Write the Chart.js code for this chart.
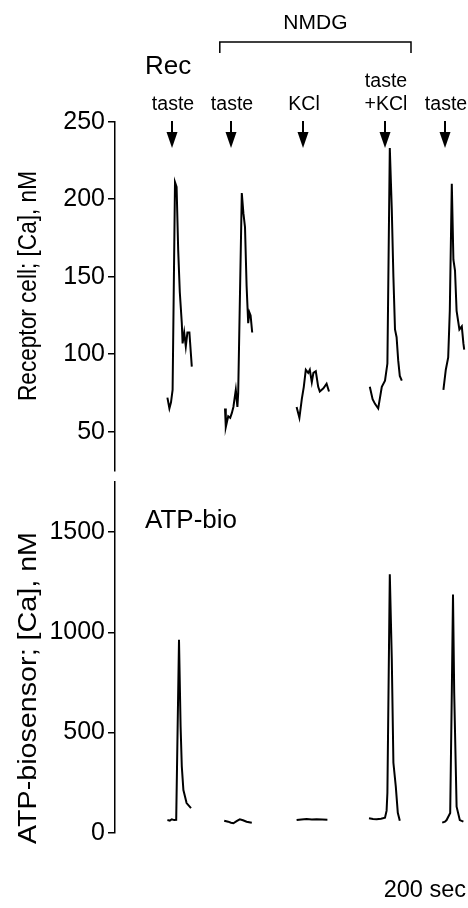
<!DOCTYPE html>
<html>
<head>
<meta charset="utf-8">
<script src="https://cdn.jsdelivr.net/npm/chart.js@4.4.1/dist/chart.umd.min.js"></script>
<style>
    html, body { margin: 0; padding: 0; background: #fff; }
    body { width: 468px; height: 908px; position: relative; overflow: hidden; }
    canvas { position: absolute; left: 0; }
    #rec { top: 0; }
    #atp { top: 460px; }
</style>
</head>
<body>
<canvas id="rec" width="468" height="490"></canvas>
<canvas id="atp" width="468" height="448"></canvas>
<script>
// traces, [sec, nM]
var recTaste1 = [[131, 72], [136, 65], [140, 69], [144, 77], [150, 211], [154, 208], [158, 167], [162, 140], [167, 120], [169, 107], [173, 114], [177, 105], [181, 114], [186, 114], [192, 92]];
var recTaste2 = [[275, 65], [277, 53], [283, 60], [288, 59], [292, 62], [296, 66], [302, 77], [306, 66], [308, 75], [317, 204], [321, 191], [325, 182], [329, 144], [333, 120], [336, 127], [339, 125], [343, 114]];
var recKCl = [[454, 66], [461, 59], [467, 71], [472, 79], [477, 90], [483, 88], [487, 90], [492, 82], [496, 88], [502, 89], [508, 79], [512, 76], [521, 78], [529, 81], [535, 76]];
var recTasteKCl = [[637, 79], [644, 71], [650, 68], [658, 65], [667, 79], [675, 83], [681, 94], [687, 233], [692, 193], [696, 150], [700, 116], [704, 111], [708, 96], [712, 86], [717, 83]];
var recTaste3 = [[821, 77], [827, 90], [833, 98], [837, 128], [842, 210], [846, 161], [850, 154], [854, 128], [861, 116], [867, 118], [871, 107], [873, 103]];

var atpTaste1 = [[131, 63], [137, 60], [142, 67], [148, 63], [153, 64], [160, 963], [164, 530], [167, 330], [171, 213], [179, 148], [190, 123]];
var atpTaste2 = [[273, 60], [283, 55], [290, 50], [296, 47], [304, 58], [312, 67], [320, 62], [329, 55], [342, 50]];
var atpKCl = [[454, 63], [466, 66], [479, 68], [492, 66], [504, 67], [518, 66], [531, 65]];
var atpTasteKCl = [[635, 72], [645, 68], [654, 67], [665, 70], [675, 75], [679, 110], [681, 199], [687, 1289], [692, 864], [696, 349], [702, 230], [707, 99], [712, 60]];
var atpTaste3 = [[818, 50], [825, 55], [829, 63], [838, 98], [842, 698], [845, 1188], [848, 698], [854, 130], [862, 63], [871, 55]];

// stimuli
var stimTimes = [142, 290, 471, 675, 825];
var stimLabels = [['taste'], ['taste'], ['KCl'], ['taste', '+KCl'], ['taste']];
var nmdgSpan = [262, 740];

// axes
var recTicks = [50, 100, 150, 200, 250];
var atpTicks = [0, 500, 1000, 1500];
var recTitle = 'Receptor cell; [Ca], nM';
var atpTitle = 'ATP-biosensor; [Ca], nM';

var FONT = '"Liberation Sans", Arial, Helvetica, sans-serif';

/**
 * Build line datasets from a list of segments.
 */
function toDatasets(segments) {
    return segments.map(function (seg) {
        return {
            data: seg.map(function (p) { return {x: p[0], y: p[1]}; }),
            borderColor: '#000',
            borderWidth: 2,
            pointRadius: 0,
            tension: 0,
            fill: false
        };
    });
}

/**
 * Shared chart options.
 */
function makeOptions(yMin, yMax, ticks, padTop, padBottom) {
    return {
        responsive: false,
        animation: false,
        devicePixelRatio: 1,
        layout: {padding: {top: padTop, bottom: padBottom, left: 0, right: 0}},
        plugins: {legend: {display: false}, tooltip: {enabled: false}},
        scales: {
            x: {type: 'linear', min: 0, max: 882.5, display: false},
            y: {
                type: 'linear',
                min: yMin,
                max: yMax,
                afterBuildTicks: function (scale) {
                    scale.ticks = ticks.map(function (v) { return {value: v}; });
                },
                afterFit: function (scale) {
                    scale.width = 115;
                },
                grid: {display: true, drawOnChartArea: false, drawTicks: true, tickLength: 7, color: '#000', lineWidth: 1.5},
                border: {display: true, color: '#000', width: 1.5},
                ticks: {
                    color: '#000',
                    padding: 3,
                    font: {family: FONT, size: 25},
                    callback: function (v) { return String(v); }
                }
            }
        }
    };
}

/**
 * Rotated axis title, fitted to a given length.
 */
function axisTitle(ctx, text, x, yMid, len, size) {
    ctx.save();
    ctx.font = size + 'px ' + FONT;
    var w = ctx.measureText(text).width;
    ctx.translate(x, yMid);
    ctx.rotate(-Math.PI / 2);
    ctx.scale(len / w, 1);
    ctx.textAlign = 'center';
    ctx.textBaseline = 'alphabetic';
    ctx.fillStyle = '#000';
    ctx.fillText(text, 0, 0);
    ctx.restore();
}

var recNotes = {
    id: 'recNotes',
    afterDraw: function (chart) {
        var ctx = chart.ctx;
        var xs = chart.scales.x;

        ctx.save();
        ctx.fillStyle = '#000';
        ctx.strokeStyle = '#000';

        ctx.font = '26px ' + FONT;
        ctx.textAlign = 'left';
        ctx.fillText('Rec', 145, 74);

        // NMDG bracket
        var x1 = xs.getPixelForValue(nmdgSpan[0]);
        var x2 = xs.getPixelForValue(nmdgSpan[1]);
        ctx.lineWidth = 1.5;
        ctx.beginPath();
        ctx.moveTo(x1, 53);
        ctx.lineTo(x1, 42);
        ctx.lineTo(x2, 42);
        ctx.lineTo(x2, 53);
        ctx.stroke();
        ctx.font = '21px ' + FONT;
        ctx.textAlign = 'center';
        ctx.fillText('NMDG', (x1 + x2) / 2, 29);

        // stimulus arrows
        ctx.font = '19.5px ' + FONT;
        stimTimes.forEach(function (t, i) {
            var x = Math.round(xs.getPixelForValue(t));
            ctx.lineWidth = 2;
            ctx.beginPath();
            ctx.moveTo(x, 121);
            ctx.lineTo(x, 134);
            ctx.stroke();
            ctx.beginPath();
            ctx.moveTo(x - 5.5, 132);
            ctx.lineTo(x + 5.5, 132);
            ctx.lineTo(x, 148);
            ctx.closePath();
            ctx.fill();

            var lines = stimLabels[i];
            lines.forEach(function (s, k) {
                ctx.fillText(s, x + 1, 110 - 23 * (lines.length - 1 - k));
            });
        });
        ctx.restore();

        axisTitle(ctx, recTitle, 36, 286, 230, 26);
    }
};

var atpNotes = {
    id: 'atpNotes',
    afterDraw: function (chart) {
        var ctx = chart.ctx;

        ctx.save();
        ctx.fillStyle = '#000';
        ctx.font = '26px ' + FONT;
        ctx.textAlign = 'left';
        ctx.fillText('ATP-bio', 145, 68);

        ctx.font = '23.5px ' + FONT;
        ctx.textAlign = 'right';
        ctx.fillText('200 sec', 466, 437);
        ctx.restore();

        axisTitle(ctx, atpTitle, 36, 228, 312, 25);
    }
};

new Chart(document.getElementById('rec'), {
    type: 'line',
    data: {datasets: toDatasets([recTaste1, recTaste2, recKCl, recTasteKCl, recTaste3])},
    options: makeOptions(25, 250, recTicks, 121.7, 19.5),
    plugins: [recNotes]
});

new Chart(document.getElementById('atp'), {
    type: 'line',
    data: {datasets: toDatasets([atpTaste1, atpTaste2, atpKCl, atpTasteKCl, atpTaste3])},
    options: makeOptions(0, 1750, atpTicks, 22, 75.3),
    plugins: [atpNotes]
});
</script>
</body>
</html>
